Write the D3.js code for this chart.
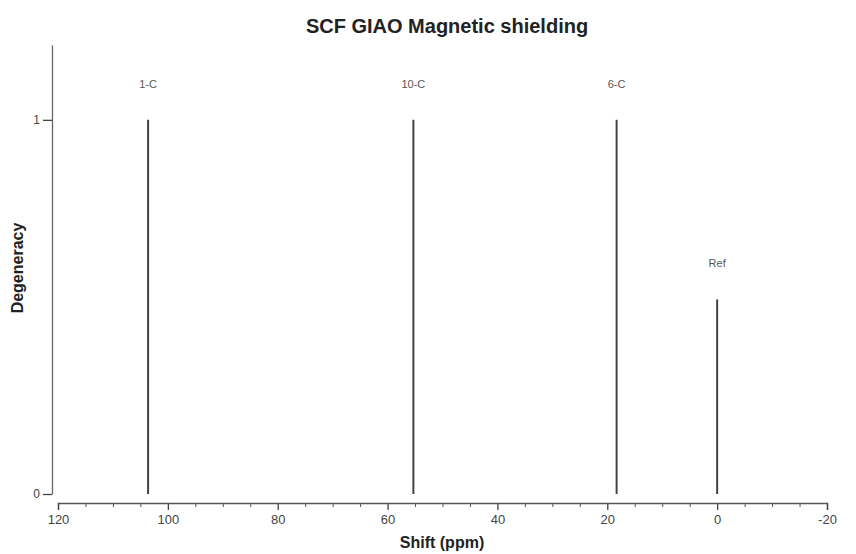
<!DOCTYPE html>
<html>
<head>
<meta charset="utf-8">
<script src="https://cdn.jsdelivr.net/npm/d3@7"></script>
<style>
body { margin: 0; background: #fff; }
svg { font-family: "Liberation Sans", Arial, sans-serif; }
</style>
</head>
<body>
<div id="chart"></div>
<script>
var peakLabels = ["1-C", "10-C", "6-C", "Ref"];
var peakShifts = [103.6, 55.3, 18.3, 0];
var peakDegeneracy = [1, 1, 1, 0.52];
var xTicks = [120, 100, 80, 60, 40, 20, 0, -20];
var yTicks = [0, 1];

var width = 856, height = 554;

var svg = d3.select("#chart")
    .append("svg")
    .attr("width", width)
    .attr("height", height);

var x = d3.scaleLinear()
    .domain([120, -20])
    .range([58, 827]);

var y = d3.scaleLinear()
    .domain([0, 1.2])
    .range([494, 45]);

// x axis, major then minor ticks
var xAxis = svg.append("g")
    .attr("transform", "translate(0,503)")
    .call(d3.axisBottom(x).tickValues(xTicks).tickSize(7).tickPadding(5)
        .tickFormat(function(d) { return String(d); }));
xAxis.selectAll(".tick line").attr("stroke", "#444").attr("stroke-width", 1.3);
svg.append("g")
    .attr("transform", "translate(0,503)")
    .call(d3.axisBottom(x).tickValues(d3.range(120, -20, -5).filter(function(v) { return v % 20 != 0; }))
        .tickSize(4).tickFormat(""))
    .call(function(g) { g.select(".domain").remove(); })
    .selectAll(".tick line").attr("stroke", "#555");
xAxis.select(".domain").attr("stroke", "#555").attr("stroke-width", 1.3);
xAxis.selectAll("text").attr("font-size", 13).attr("fill", "#444");

// y axis
var yAxis = svg.append("g")
    .attr("transform", "translate(52,0)")
    .call(d3.axisLeft(y).tickValues(yTicks).tickSize(9).tickPadding(3).tickSizeOuter(0)
        .tickFormat(d3.format("d")));
yAxis.select(".domain").attr("stroke", "#666").attr("stroke-width", 1.3);
yAxis.selectAll(".tick line").attr("stroke", "#444").attr("stroke-width", 1.3);
yAxis.selectAll("text").attr("font-size", 12).attr("fill", "#444");

// peaks
svg.selectAll(".peak")
    .data(peakShifts)
    .enter()
    .append("line")
    .attr("class", "peak")
    .attr("x1", function(d) { return x(d); })
    .attr("x2", function(d) { return x(d); })
    .attr("y1", y(0))
    .attr("y2", function(d, i) { return y(peakDegeneracy[i]); })
    .attr("stroke", "#444")
    .attr("stroke-width", 2);

svg.selectAll(".plabel")
    .data(peakShifts)
    .enter()
    .append("text")
    .attr("class", "plabel")
    .attr("x", function(d) { return x(d); })
    .attr("y", function(d, i) { return y(peakDegeneracy[i]) - 32; })
    .attr("text-anchor", "middle")
    .attr("font-size", 11)
    .attr("fill", "#555")
    .text(function(d, i) { return peakLabels[i]; });

// titles
svg.append("text")
    .attr("x", 447)
    .attr("y", 33)
    .attr("text-anchor", "middle")
    .attr("font-size", 20)
    .attr("font-weight", "bold")
    .attr("fill", "#222")
    .text("SCF GIAO Magnetic shielding");

svg.append("text")
    .attr("x", 442)
    .attr("y", 548)
    .attr("text-anchor", "middle")
    .attr("font-size", 16)
    .attr("font-weight", "bold")
    .attr("fill", "#222")
    .text("Shift (ppm)");

svg.append("text")
    .attr("transform", "translate(23,268) rotate(-90)")
    .attr("text-anchor", "middle")
    .attr("font-size", 16)
    .attr("font-weight", "bold")
    .attr("fill", "#222")
    .text("Degeneracy");
</script>
</body>
</html>
